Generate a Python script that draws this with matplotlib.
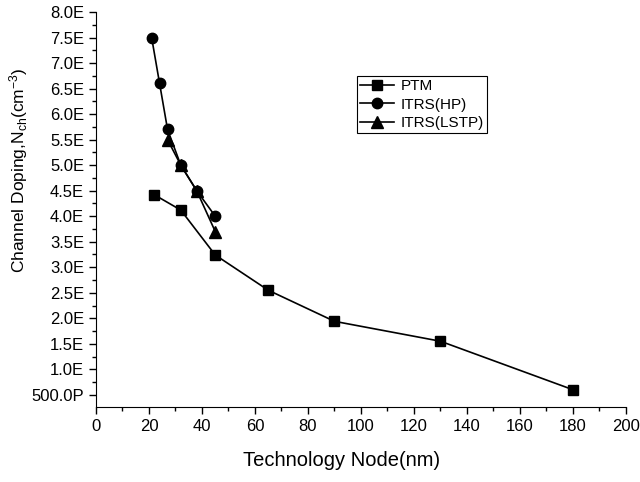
import matplotlib
matplotlib.use("Agg")
import matplotlib.pyplot as plt
from matplotlib.ticker import MultipleLocator, FuncFormatter

plt.rcParams['font.family'] = ['Liberation Sans', 'DejaVu Sans']
plt.rcParams['mathtext.default'] = 'regular'

# channel doping in units of 1e18 cm^-3
ptm_node = [22, 32, 45, 65, 90, 130, 180]
ptm_doping = [4.42, 4.12, 3.24, 2.55, 1.94, 1.55, 0.60]

hp_node = [21, 24, 27, 32, 38, 45]
hp_doping = [7.5, 6.6, 5.7, 5.0, 4.5, 4.0]

lstp_node = [27, 32, 38, 45]
lstp_doping = [5.5, 5.0, 4.5, 3.7]


def fmt_doping(v, pos):
    # Origin style engineering labels: E = 1e18, P = 1e15
    if v < 0.999:
        return f"{v * 1000:.1f}P"
    return f"{v:.1f}E"


fig = plt.figure(figsize=(6.4, 4.82), dpi=100)
ax = fig.add_axes([0.15, 0.156, 0.828, 0.819])

ax.plot(ptm_node, ptm_doping, color='black', marker='s', markersize=7, lw=1.2, label='PTM')
ax.plot(hp_node, hp_doping, color='black', marker='o', markersize=7.5, lw=1.2, label='ITRS(HP)')
ax.plot(lstp_node, lstp_doping, color='black', marker='^', markersize=8, lw=1.2, label='ITRS(LSTP)')

ax.set_xlim(0, 200)
ax.set_ylim(0.265, 8.0)
ax.xaxis.set_major_locator(MultipleLocator(20))
ax.xaxis.set_minor_locator(MultipleLocator(10))
ax.yaxis.set_major_locator(MultipleLocator(0.5))
ax.yaxis.set_minor_locator(MultipleLocator(0.25))
ax.yaxis.set_major_formatter(FuncFormatter(fmt_doping))

ax.spines['top'].set_visible(False)
ax.spines['right'].set_visible(False)
ax.tick_params(which='major', direction='out', length=5, width=1, labelsize=12)
ax.tick_params(which='minor', direction='out', length=3, width=1)

ax.set_xlabel('Technology Node(nm)', fontsize=14.5)
ax.xaxis.set_label_coords(0.464, -0.112)
ax.set_ylabel('Channel Doping,N$_{ch}$(cm$^{-3}$)', fontsize=12.5)
ax.yaxis.set_label_coords(-0.125, 0.6)

leg = ax.legend(loc='upper left', bbox_to_anchor=(0.4925, 0.838), fontsize=11,
                frameon=True, fancybox=False, edgecolor='black', framealpha=1,
                handlelength=2.25, handletextpad=0.4, borderpad=0.2, labelspacing=0.3,
                borderaxespad=0)
leg.get_frame().set_linewidth(0.8)

fig.savefig('out.png', dpi=100)
